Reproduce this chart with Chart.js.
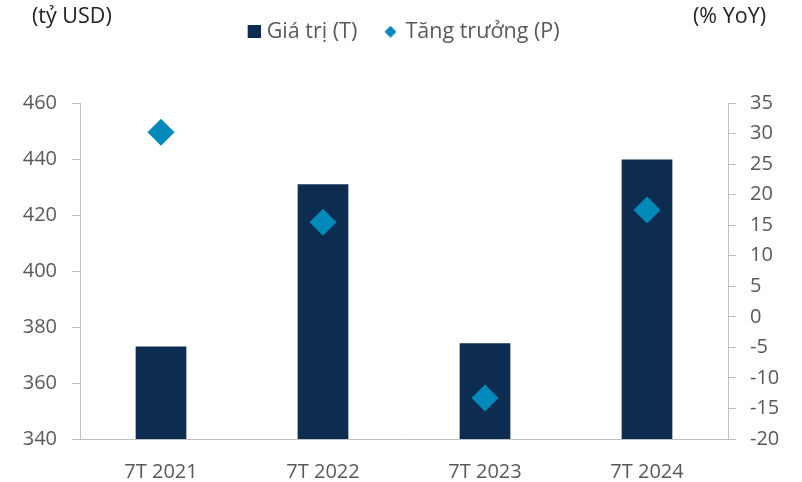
<!DOCTYPE html>
<html>
<head>
<meta charset="utf-8">
<script src="https://cdn.jsdelivr.net/npm/chart.js@4.4.1/dist/chart.umd.min.js"></script>
<style>
  html, body { margin: 0; padding: 0; background: #ffffff; }
  #wrap { width: 802px; height: 482px; }
</style>
</head>
<body>
<div id="wrap"><canvas id="c" width="802" height="482"></canvas></div>
<script>
// ---- Data ----
const categories = ['7T 2021', '7T 2022', '7T 2023', '7T 2024'];
const valueSeries = [373.0, 431.0, 374.2, 439.8];     // Giá trị (tỷ USD), left axis
const growthSeries = [30.2, 15.5, -13.3, 17.5];       // Tăng trưởng (% YoY), right axis
const leftTicks = [340, 360, 380, 400, 420, 440, 460];
const rightTicks = [-20, -15, -10, -5, 0, 5, 10, 15, 20, 25, 30, 35];
const seriesNames = ['Giá trị (T)', 'Tăng trưởng (P)'];
const axisTitles = ['(tỷ USD)', '(% YoY)'];

// ---- Styles ----
const BAR_COLOR = '#0C2D4F';
const DOT_COLOR = '#0089BA';
const AXIS_COLOR = '#BFBFBF';
const TICK_COLOR = '#595959';
const FONT = '"Open Sans", "Noto Sans", sans-serif';

Chart.defaults.font.family = FONT;
Chart.defaults.color = TICK_COLOR;

function legendSquare() {
  const c = document.createElement('canvas');
  c.width = 23; c.height = 13;
  const g = c.getContext('2d');
  g.fillStyle = BAR_COLOR;
  g.fillRect(10, 0, 13, 13);
  return c;
}
function legendDiamond() {
  const c = document.createElement('canvas');
  c.width = 17; c.height = 12;
  const g = c.getContext('2d');
  g.fillStyle = DOT_COLOR;
  g.beginPath();
  g.moveTo(11, 0); g.lineTo(17, 6); g.lineTo(11, 12); g.lineTo(5, 6);
  g.closePath(); g.fill();
  return c;
}
const legendIcons = [legendSquare(), legendDiamond()];

const unitTitles = {
  id: 'unitTitles',
  afterDraw(chart) {
    const ctx = chart.ctx;
    ctx.save();
    ctx.font = '21.5px ' + FONT;
    ctx.fillStyle = '#222222';
    ctx.textBaseline = 'middle';
    ctx.textAlign = 'left';
    ctx.fillText(axisTitles[0], 32, 17);
    ctx.fillText(axisTitles[1], 693, 17);
    ctx.restore();
  }
};

const legendSpacer = {
  id: 'legendSpacer',
  beforeLayout(chart) {
    const lg = chart.legend;
    if (lg && !lg._spacerWrapped) {
      const origFit = lg.fit;
      lg.fit = function () {
        origFit.call(this);
        this.height = 106;
      };
      lg._spacerWrapped = true;
    }
  }
};

new Chart(document.getElementById('c'), {
  data: {
    labels: categories,
    datasets: [
      {
        type: 'bar',
        label: seriesNames[0],
        data: valueSeries,
        yAxisID: 'y',
        backgroundColor: BAR_COLOR,
        borderWidth: 0,
        barPercentage: 0.313,
        categoryPercentage: 1.0,
        order: 1
      },
      {
        type: 'line',
        label: seriesNames[1],
        data: growthSeries,
        yAxisID: 'y1',
        showLine: false,
        pointStyle: 'rectRot',
        pointRadius: 13.5,
        pointHoverRadius: 13.5,
        pointBorderWidth: 0,
        pointBackgroundColor: DOT_COLOR,
        borderColor: DOT_COLOR,
        order: 0
      }
    ]
  },
  options: {
    responsive: false,
    animation: false,
    devicePixelRatio: 1,
    layout: { padding: { top: -3, left: 0, right: 0, bottom: 0 } },
    plugins: {
      tooltip: { enabled: false },
      legend: {
        display: true,
        position: 'top',
        align: 'center',
        labels: {
          usePointStyle: true,
          pointStyleWidth: 13.5,
          padding: 24,
          color: TICK_COLOR,
          font: { size: 21.5, family: FONT },
          generateLabels(chart) {
            return chart.data.datasets.map((ds, i) => ({
              text: ds.label,
              pointStyle: legendIcons[i],
              fillStyle: 'transparent',
              strokeStyle: 'transparent',
              lineWidth: 0,
              fontColor: TICK_COLOR,
              hidden: false,
              datasetIndex: i
            }));
          }
        }
      }
    },
    scales: {
      x: {
        type: 'category',
        offset: true,
        grid: { display: false, drawTicks: false },
        border: { display: true, color: AXIS_COLOR, width: 1 },
        ticks: { color: TICK_COLOR, font: { size: 20 }, padding: 21, maxRotation: 0 },
        afterFit(s) { s.height = 43; }
      },
      y: {
        type: 'linear',
        position: 'left',
        min: leftTicks[0],
        max: leftTicks[leftTicks.length - 1],
        afterBuildTicks(s) { s.ticks = leftTicks.map(v => ({ value: v })); },
        grid: { display: true, drawOnChartArea: false, drawTicks: true, tickLength: 8, color: AXIS_COLOR, lineWidth: 1 },
        border: { display: true, color: AXIS_COLOR, width: 1 },
        ticks: { color: TICK_COLOR, font: { size: 20 }, padding: 15 },
        afterFit(s) { s.width = 80; }
      },
      y1: {
        type: 'linear',
        position: 'right',
        min: rightTicks[0],
        max: rightTicks[rightTicks.length - 1],
        afterBuildTicks(s) { s.ticks = rightTicks.map(v => ({ value: v })); },
        grid: { display: true, drawOnChartArea: false, drawTicks: true, tickLength: 8, color: AXIS_COLOR, lineWidth: 1 },
        border: { display: true, color: AXIS_COLOR, width: 1 },
        ticks: { color: TICK_COLOR, font: { size: 20 }, padding: 14 },
        afterFit(s) { s.width = 74; }
      }
    }
  },
  plugins: [legendSpacer, unitTitles]
});
</script>
</body>
</html>
